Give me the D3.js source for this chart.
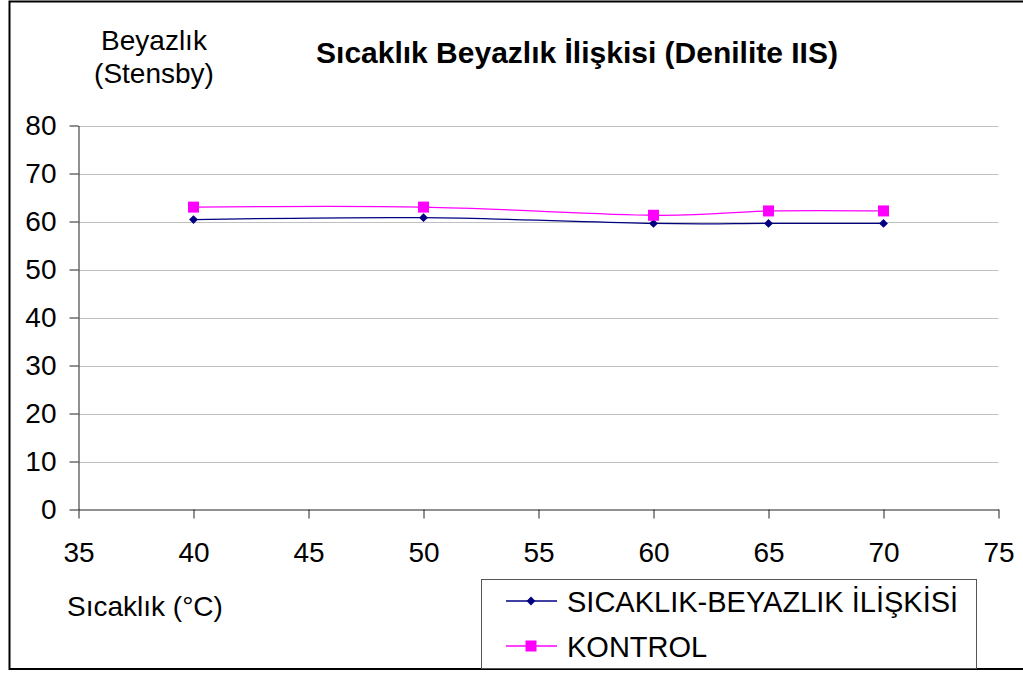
<!DOCTYPE html>
<html>
<head>
<meta charset="utf-8">
<script src="https://cdn.jsdelivr.net/npm/d3@7"></script>
<style>
  body { margin: 0; background: #fff; }
  svg text { font-family: "Liberation Sans", Arial, sans-serif; fill: #000; }
  .grid line { stroke: #c0c0c0; stroke-width: 1; }
</style>
</head>
<body>
<div id="chart"></div>
<script>
// values
var temps = [40, 50, 60, 65, 70];
var beyazlik = [60.4, 60.8, 59.6, 59.6, 59.6];
var kontrol = [63.0, 63.0, 61.3, 62.2, 62.2];
var xTicks = [35, 40, 45, 50, 55, 60, 65, 70, 75];
var yTicks = [0, 10, 20, 30, 40, 50, 60, 70, 80];
var seriesNames = ["SICAKLIK-BEYAZLIK İLİŞKİSİ", "KONTROL"];
var seriesColors = ["#000080", "#ff00ff"];

var width = 1023, height = 675;
var svg = d3.select("#chart").append("svg")
    .attr("width", width)
    .attr("height", height);

// outer frame
svg.append("rect")
    .attr("x", 9.5).attr("y", 1.5)
    .attr("width", 1030).attr("height", 667.5)
    .attr("fill", "#fff")
    .attr("stroke", "#000")
    .attr("stroke-width", 2);

var x = d3.scaleLinear().domain([35, 75]).range([78.5, 998.5]);
var y = d3.scaleLinear().domain([0, 80]).range([509.5, 125.5]);

// gridlines
svg.append("g").attr("class", "grid")
    .selectAll("line")
    .data(yTicks.filter(function(d) { return d > 0; }))
    .enter().append("line")
    .attr("x1", x(35)).attr("x2", x(75))
    .attr("y1", function(d) { return Math.round(y(d)) + 0.5; })
    .attr("y2", function(d) { return Math.round(y(d)) + 0.5; });

// axes
var xAxis = d3.axisBottom(x).tickValues(xTicks).tickSize(9).tickPadding(24).tickSizeOuter(0);
var yAxis = d3.axisLeft(y).tickValues(yTicks).tickSize(9).tickPadding(13).tickSizeOuter(0);

var gx = svg.append("g").attr("transform", "translate(0," + y(0) + ")").call(xAxis);
var gy = svg.append("g").attr("transform", "translate(" + x(35) + ",0)").call(yAxis);
[gx, gy].forEach(function(g) {
    g.select(".domain").attr("stroke", "#222");
    g.selectAll(".tick line").attr("stroke", "#222");
    g.selectAll(".tick text")
        .style("font-size", "28px")
        .style("font-family", "Liberation Sans, Arial, sans-serif")
        .attr("fill", "#000");
});

// lines (smoothed like the original)
var line = d3.line()
    .x(function(d) { return x(d[0]); })
    .y(function(d) { return y(d[1]); })
    .curve(d3.curveCatmullRom.alpha(0));

var data = [beyazlik, kontrol].map(function(vals) {
    return temps.map(function(t, i) { return [t, vals[i]]; });
});

data.forEach(function(pts, k) {
    svg.append("path")
        .datum(pts)
        .attr("d", line)
        .attr("fill", "none")
        .attr("stroke", seriesColors[k])
        .attr("stroke-width", 1.3);
});

var diamond = d3.symbol().type(d3.symbolDiamond2).size(50);

function drawMarker(g, k, cx, cy) {
    if (k === 0) {
        g.append("path")
            .attr("d", diamond())
            .attr("transform", "translate(" + cx + "," + cy + ")")
            .attr("fill", seriesColors[0]);
    } else {
        g.append("rect")
            .attr("x", cx - 5.5).attr("y", cy - 5.5)
            .attr("width", 11).attr("height", 11)
            .attr("fill", seriesColors[1]);
    }
}

var marks = svg.append("g");
data.forEach(function(pts, k) {
    pts.forEach(function(p) {
        drawMarker(marks, k, x(p[0]), y(p[1]));
    });
});

// title and axis labels
svg.append("text")
    .attr("x", 577).attr("y", 63)
    .attr("text-anchor", "middle")
    .style("font-size", "30px")
    .style("font-weight", "bold")
    .text("Sıcaklık Beyazlık İlişkisi (Denilite IIS)");

svg.append("text")
    .attr("x", 154).attr("y", 50)
    .attr("text-anchor", "middle")
    .style("font-size", "28px")
    .text("Beyazlık");
svg.append("text")
    .attr("x", 154).attr("y", 83)
    .attr("text-anchor", "middle")
    .style("font-size", "28px")
    .text("(Stensby)");

svg.append("text")
    .attr("x", 67).attr("y", 616)
    .style("font-size", "28px")
    .text("Sıcaklık (°C)");

// legend
var legend = svg.append("g");
legend.append("rect")
    .attr("x", 481.5).attr("y", 579.5)
    .attr("width", 495).attr("height", 89)
    .attr("fill", "#fff")
    .attr("stroke", "#555")
    .attr("stroke-width", 1);

seriesNames.forEach(function(name, k) {
    var ly = 601 + k * 45;
    legend.append("line")
        .attr("x1", 506).attr("x2", 557)
        .attr("y1", ly).attr("y2", ly)
        .attr("stroke", seriesColors[k])
        .attr("stroke-width", 1.3);
    drawMarker(legend, k, 531, ly);
    legend.append("text")
        .attr("x", 567).attr("y", ly + 11)
        .style("font-size", "29px")
        .text(name);
});
</script>
</body>
</html>
